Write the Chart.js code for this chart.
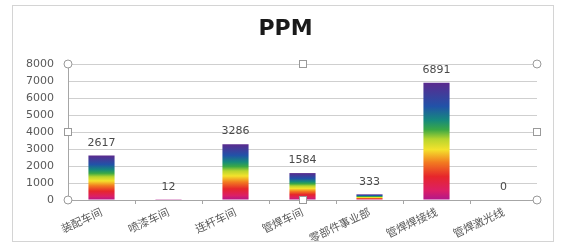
<!DOCTYPE html>
<html>
<head>
<meta charset="utf-8">
<script src="https://cdn.jsdelivr.net/npm/chart.js@4/dist/chart.umd.min.js"></script>
<style>
html,body{margin:0;padding:0;background:#fff;}
#wrap{width:563px;height:245px;}
</style>
</head>
<body>
<div id="wrap"><canvas id="c" width="563" height="245"></canvas></div>
<script>
const categories = ['装配车间', '喷漆车间', '连杆车间', '管焊车间', '零部件事业部', '管焊焊接线', '管焊激光线'];
const ppmValues = [2617, 12, 3286, 1584, 333, 6891, 0];
const yTicks = [0, 1000, 2000, 3000, 4000, 5000, 6000, 7000, 8000];

const rainbowStops = [
  [0.00, '#b0178c'],
  [0.08, '#dc1f66'],
  [0.20, '#e6262b'],
  [0.32, '#f27a20'],
  [0.43, '#f4e22c'],
  [0.52, '#b7d52e'],
  [0.60, '#3ba845'],
  [0.68, '#168a7c'],
  [0.80, '#2152a8'],
  [1.00, '#5b2a8e']
];

function barFill(context) {
  const chart = context.chart;
  const area = chart.chartArea;
  if (!area) return '#2152a8';
  const y = chart.scales.y;
  const v = context.raw;
  const base = y.getPixelForValue(0);
  const top = y.getPixelForValue(v);
  if (Math.abs(base - top) < 0.5) return '#b0178c';
  const g = chart.ctx.createLinearGradient(0, base, 0, top);
  rainbowStops.forEach(s => g.addColorStop(s[0], s[1]));
  return g;
}

const framePlugin = {
  id: 'frame',
  afterLayout(chart) {
    // let the y tick labels use the space left of the axis box without clipping
    chart.scales.y.left = 0;
  },
  beforeDraw(chart) {
    const ctx = chart.ctx;
    ctx.save();
    ctx.fillStyle = '#ffffff';
    ctx.fillRect(0, 0, chart.width, chart.height);
    ctx.strokeStyle = '#d4d4d4';
    ctx.lineWidth = 1;
    ctx.strokeRect(12.5, 5.5, 541, 236);
    ctx.restore();
  }
};

const valueLabels = {
  id: 'valueLabels',
  afterDatasetsDraw(chart) {
    const ctx = chart.ctx;
    const meta = chart.getDatasetMeta(0);
    ctx.save();
    ctx.font = '11px "DejaVu Sans"';
    ctx.fillStyle = '#4a4a4a';
    ctx.textAlign = 'center';
    ctx.textBaseline = 'bottom';
    meta.data.forEach((el, i) => {
      ctx.fillText(String(ppmValues[i]), el.x, el.y - 7);
    });
    ctx.restore();
  }
};

const handles = {
  id: 'handles',
  afterDraw(chart) {
    const a = chart.chartArea;
    const ctx = chart.ctx;
    const mx = (a.left + a.right) / 2, my = (a.top + a.bottom) / 2;
    ctx.save();
    ctx.strokeStyle = '#9a9a9a';
    ctx.fillStyle = '#ffffff';
    ctx.lineWidth = 1;
    [[a.left, a.top], [a.right, a.top], [a.left, a.bottom], [a.right, a.bottom]].forEach(p => {
      ctx.beginPath();
      ctx.arc(p[0], p[1], 4, 0, Math.PI * 2);
      ctx.fill();
      ctx.stroke();
    });
    [[mx, a.top], [mx, a.bottom], [a.left, my], [a.right, my]].forEach(p => {
      ctx.fillRect(Math.round(p[0]) - 3.5, Math.round(p[1]) - 3.5, 7, 7);
      ctx.strokeRect(Math.round(p[0]) - 3.5, Math.round(p[1]) - 3.5, 7, 7);
    });
    ctx.restore();
  }
};

new Chart(document.getElementById('c'), {
  type: 'bar',
  data: {
    labels: categories,
    datasets: [{
      label: 'PPM',
      data: ppmValues,
      backgroundColor: barFill,
      borderWidth: 0,
      barPercentage: 0.39,
      categoryPercentage: 1.0
    }]
  },
  options: {
    responsive: false,
    animation: false,
    devicePixelRatio: 1,
    layout: { padding: { left: 34, right: 26, top: 0, bottom: 0 } },
    plugins: {
      legend: { display: false },
      tooltip: { enabled: false },
      title: {
        display: true,
        text: 'PPM',
        color: '#1a1a1a',
        font: { family: 'DejaVu Sans', weight: 'bold', size: 22 },
        padding: { top: 16, bottom: 21.6 }
      }
    },
    scales: {
      x: {
        grid: { display: true, drawOnChartArea: false, drawTicks: true, tickLength: 4, color: '#a6a6a6', offset: true },
        border: { display: true, color: '#a6a6a6' },
        ticks: {
          autoSkip: false,
          minRotation: 25,
          maxRotation: 25,
          padding: 1,
          color: '#595959',
          font: { family: '"Noto Sans CJK SC"', size: 11 }
        },
        afterFit(s) { s.height = 45; }
      },
      y: {
        min: 0,
        max: 8000,
        afterBuildTicks(s) { s.ticks = yTicks.map(v => ({ value: v })); },
        grid: { color: '#cfcfcf', drawTicks: false, tickLength: 0 },
        border: { display: true, color: '#a6a6a6' },
        ticks: {
          padding: 14,
          color: '#595959',
          font: { family: 'DejaVu Sans', size: 11 },
          callback: (v) => String(v)
        },
        afterFit(s) { s.width = 34; }
      }
    }
  },
  plugins: [framePlugin, valueLabels, handles]
});
</script>
</body>
</html>
